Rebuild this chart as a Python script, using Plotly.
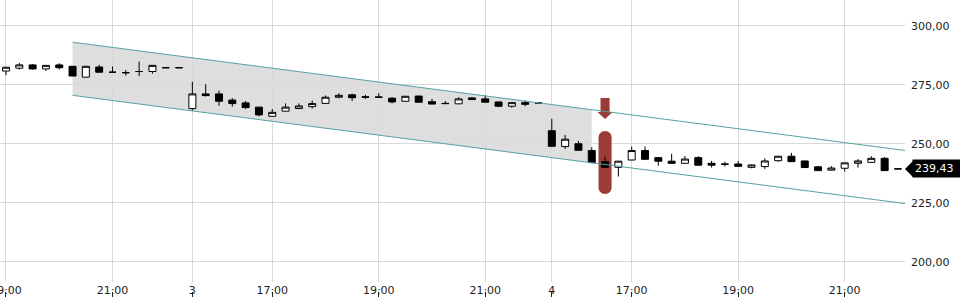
import plotly.graph_objects as go

# ---------------- data ----------------
idx = list(range(68))
opens = [280.9, 282.1, 283.5, 281.8, 283.5, 282.9, 278.3, 282.6, 280.4, 280.2,
         280.7, 280.7, 282.3, 282.3, 265.0, 271.2, 271.2, 268.6, 267.4, 265.6,
         261.7, 263.9, 265.0, 265.8, 267.2, 269.8, 270.8, 270.0, 269.9, 269.4,
         268.1, 270.3, 267.9, 267.2, 267.0, 269.5, 269.1, 267.8, 266.0, 267.5,
         267.4, 255.6, 248.9, 250.1, 247.2, 242.5, 240.1, 243.2, 247.2, 244.2,
         242.7, 241.8, 244.2, 241.8, 241.5, 241.5, 240.1, 240.4, 242.9, 244.8,
         242.8, 240.3, 238.9, 239.7, 241.8, 242.2, 243.9, 239.43]
highs = [282.7, 284.3, 283.8, 283.4, 284.2, 283.0, 283.0, 283.5, 282.8, 281.4,
         284.9, 283.4, 282.3, 282.3, 276.4, 275.3, 272.6, 269.4, 268.2, 265.7,
         264.8, 267.2, 267.2, 268.4, 270.5, 271.5, 271.3, 270.8, 271.5, 269.8,
         270.3, 270.4, 269.1, 268.2, 269.8, 269.9, 270.6, 267.9, 267.6, 268.4,
         267.4, 260.7, 253.8, 251.3, 248.6, 244.6, 242.8, 248.9, 248.9, 244.3,
         245.8, 244.9, 244.8, 242.8, 242.5, 242.8, 241.3, 243.9, 244.9, 246.2,
         242.9, 240.7, 240.6, 242.1, 243.6, 244.8, 244.5, 239.43]
lows = [279.1, 281.5, 281.5, 280.9, 281.5, 278.7, 278.2, 280.3, 280.4, 279.0,
        278.7, 279.8, 282.3, 282.3, 264.1, 270.1, 266.2, 265.8, 264.8, 261.7,
        261.6, 263.8, 264.9, 265.0, 267.1, 269.4, 268.2, 269.1, 269.5, 267.2,
        268.0, 267.6, 266.8, 267.0, 266.9, 268.7, 267.6, 265.6, 265.3, 266.0,
        267.4, 248.9, 247.9, 247.2, 242.0, 239.7, 236.2, 243.1, 243.4, 240.8,
        241.7, 241.7, 240.9, 240.0, 240.4, 240.4, 239.7, 239.4, 242.5, 242.4,
        239.9, 238.6, 238.8, 238.3, 240.0, 242.1, 238.6, 239.43]
closes = [282.5, 283.5, 281.8, 283.3, 282.3, 278.8, 282.9, 280.4, 280.4, 280.2,
          280.7, 283.3, 282.3, 282.3, 271.2, 270.5, 268.1, 267.1, 265.4, 262.3,
          263.4, 265.6, 266.1, 267.1, 269.8, 270.6, 269.6, 269.8, 269.8, 267.8,
          270.2, 267.7, 266.9, 267.1, 269.1, 268.8, 267.7, 266.0, 267.5, 266.8,
          267.4, 249.0, 252.0, 247.3, 242.1, 240.1, 242.7, 247.2, 243.5, 242.7,
          241.8, 243.6, 241.0, 241.0, 241.4, 240.5, 241.1, 242.8, 244.8, 242.5,
          240.0, 238.7, 239.8, 242.0, 242.8, 243.9, 238.7, 239.43]

tick_pos = [0, 8, 14, 20, 28, 36, 41, 47, 55, 63]
tick_text = ["19:00", "21:00", "3", "17:00", "19:00", "21:00", "4", "17:00", "19:00", "21:00"]
y_ticks = [200, 225, 250, 275, 300]

# trend channel (endpoints) and shaded part end
channel_x = [5, 68]
channel_upper = [293.1, 246.9]
channel_lower = [270.6, 224.4]
channel_fill_end = 44

# signal marker
signal_idx = 45
signal_top = 255.5
signal_bottom = 228.8
arrow_top = 269.5
arrow_tip = 260.6

last_price = 239.43

# ---------------- styles ----------------
FONT = "DejaVu Sans"
TXT = "#222222"
GRID = "#d9d9d9"
TEAL = "#5a9fa6"
RED = "#9a3b35"
X_RANGE = [-0.45, 67.53]
Y_RANGE = [191.5, 311.0]


def lerp(x, xs, ys):
    t = (x - xs[0]) / (xs[1] - xs[0])
    return ys[0] + t * (ys[1] - ys[0])


fig = go.Figure()

fig.add_trace(go.Candlestick(
    x=idx, open=opens, high=highs, low=lows, close=closes,
    increasing=dict(line=dict(color="black", width=1), fillcolor="white"),
    decreasing=dict(line=dict(color="black", width=1), fillcolor="black"),
    whiskerwidth=0, showlegend=False, hoverinfo="skip",
))

# channel lines
for ys in (channel_upper, channel_lower):
    fig.add_trace(go.Scatter(x=channel_x, y=ys, mode="lines",
                             line=dict(color=TEAL, width=1),
                             showlegend=False, hoverinfo="skip"))

# empty trace for the bottom tick axis
fig.add_trace(go.Scatter(x=[None], y=[None], xaxis="x2", yaxis="y",
                         showlegend=False, hoverinfo="skip"))

# channel shading
u0, l0 = channel_upper[0], channel_lower[0]
u1 = lerp(channel_fill_end, channel_x, channel_upper)
l1 = lerp(channel_fill_end, channel_x, channel_lower)
x0 = channel_x[0]
fig.add_shape(type="path", xref="x", yref="y", layer="below",
              path=f"M {x0},{u0} L {channel_fill_end},{u1} L {channel_fill_end},{l1} L {x0},{l0} Z",
              fillcolor="#dedede", line=dict(width=0))

# signal pill
half_w = 0.49
ry = 6.5 / 2.36
k = 0.5523
xl, xr, xc = signal_idx - half_w, signal_idx + half_w, signal_idx
T, B = signal_top, signal_bottom
pill = (f"M {xl},{T - ry} "
        f"C {xl},{T - ry + k * ry} {xc - k * half_w},{T} {xc},{T} "
        f"C {xc + k * half_w},{T} {xr},{T - ry + k * ry} {xr},{T - ry} "
        f"L {xr},{B + ry} "
        f"C {xr},{B + ry - k * ry} {xc + k * half_w},{B} {xc},{B} "
        f"C {xc - k * half_w},{B} {xl},{B + ry - k * ry} {xl},{B + ry} Z")
fig.add_shape(type="path", xref="x", yref="y", layer="between",
              path=pill, fillcolor=RED, line=dict(width=0))

# down arrow
sw, hw = 0.34, 0.57
head_base = arrow_tip + 7 / 2.36
arrow = (f"M {xc - sw},{arrow_top} L {xc + sw},{arrow_top} L {xc + sw},{head_base} "
         f"L {xc + hw},{head_base} L {xc},{arrow_tip} L {xc - hw},{head_base} "
         f"L {xc - sw},{head_base} Z")
fig.add_shape(type="path", xref="x", yref="y", layer="between",
              path=arrow, fillcolor=RED, line=dict(width=0))

# last price tag
px_w = 905.0
tri_w = 8 / px_w
tri_h = 8 / 2.36
fig.add_shape(type="path", xref="paper", yref="y", layer="above",
              path=f"M 1,{last_price} L {1 + tri_w},{last_price + tri_h} L {1 + tri_w},{last_price - tri_h} Z",
              fillcolor="black", line=dict(width=0))
fig.add_annotation(xref="paper", yref="y", x=1, y=last_price, xshift=7,
                   xanchor="left", yanchor="middle", showarrow=False,
                   text=f"{last_price:.2f}".replace(".", ","),
                   font=dict(family=FONT, size=11, color="white"),
                   bgcolor="black", borderpad=2, width=48, align="left")

fig.update_layout(
    width=960, height=300,
    margin=dict(l=0, r=55, t=0, b=3, autoexpand=False),
    paper_bgcolor="white", plot_bgcolor="white",
    separators=", ",
    font=dict(family=FONT, size=11, color=TXT),
    showlegend=False,
    boxgap=0.25,
    xaxis=dict(range=X_RANGE, autorange=False, automargin=False,
               tickvals=tick_pos, ticktext=tick_text,
               showgrid=True, gridcolor=GRID, gridwidth=1,
               zeroline=False, showline=False, ticks="",
               ticklabeloverflow="allow",
               rangeslider=dict(visible=False), anchor="y",
               tickfont=dict(family=FONT, size=11, color=TXT)),
    xaxis2=dict(range=X_RANGE, autorange=False, automargin=False,
                overlaying="x", anchor="free", position=0,
                tickvals=tick_pos, ticks="inside", ticklen=5, tickcolor=TXT,
                showticklabels=False, showgrid=False, zeroline=False, showline=False),
    yaxis=dict(range=Y_RANGE, autorange=False, automargin=False,
               domain=[15 / 297, 1], side="right",
               tickvals=y_ticks, tickformat=".2f", tickprefix="- ",
               showgrid=True, gridcolor=GRID, gridwidth=1,
               zeroline=False, showline=False, ticks="",
               ticklabelstandoff=5,
               tickfont=dict(family=FONT, size=11, color=TXT)),
)

fig.write_html("out.html")
